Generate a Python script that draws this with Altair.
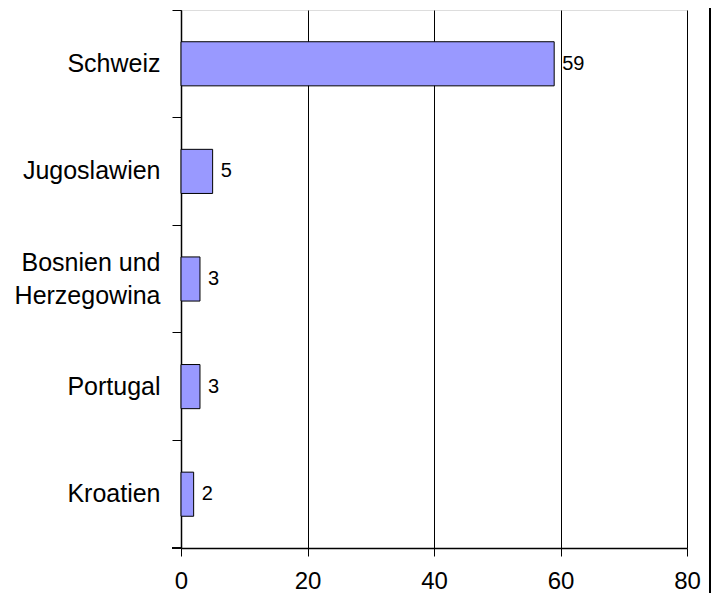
import altair as alt
import pandas as pd

countries = ["Schweiz", "Jugoslawien", "Bosnien und Herzegowina", "Portugal", "Kroatien"]
values = [59, 5, 3, 3, 2]
x_ticks = [0, 20, 40, 60, 80]

df = pd.DataFrame({"Land": countries, "Wert": values})

FONT = "Liberation Sans"

y_enc = alt.Y(
    "Land:N",
    sort=countries,
    scale=alt.Scale(paddingInner=0, paddingOuter=0),
    axis=alt.Axis(
        title=None,
        bandPosition=0,
        domainColor="black",
        domainWidth=1.5,
        tickColor="black",
        tickSize=9,
        tickWidth=1,
        labelFont=FONT,
        labelFontSize=25,
        labelColor="black",
        labelPadding=12,
        labelLineHeight=33,
        labelOffset=alt.condition(
            "datum.value == 'Bosnien und Herzegowina'", alt.value(-16), alt.value(0)
        ),
        labelExpr="datum.value == 'Bosnien und Herzegowina' ? ['Bosnien und', 'Herzegowina'] : datum.value",
    ),
)

x_enc = alt.X(
    "Wert:Q",
    scale=alt.Scale(domain=[0, 80], nice=False),
    axis=alt.Axis(
        title=None,
        values=x_ticks,
        grid=True,
        gridColor="black",
        gridWidth=1,
        gridOpacity=1,
        domainColor="black",
        domainWidth=1.5,
        tickColor="black",
        tickSize=8,
        tickWidth=1,
        labelFont=FONT,
        labelFontSize=24,
        labelColor="black",
        labelPadding=13,
        labelFlush=False,
        labelOverlap=False,
    ),
)

bars = alt.Chart(df).mark_bar(
    color="#9999FF", stroke="black", strokeWidth=1, height={"band": 0.41}
).encode(x=x_enc, y=y_enc)

labels = alt.Chart(df).mark_text(
    align="left", baseline="middle", dx=8, font=FONT, fontSize=20, color="black"
).encode(x="Wert:Q", y=alt.Y("Land:N", sort=countries), text="Wert:Q")

bottom_tick = alt.Chart(df).mark_rule(color="black", strokeWidth=1).encode(
    x=alt.value(-9), x2=alt.value(0), y=alt.value(538)
)

border = alt.Chart(df).mark_rule(color="black", strokeWidth=1.5, clip=False).encode(
    x=alt.value(529), y=alt.value(-12), y2=alt.value(595)
)

chart = (
    alt.layer(bars, labels, bottom_tick, border)
    .properties(
        width=506,
        height=538,
        autosize=alt.AutoSizeParams(type="none"),
        padding={"left": 173, "top": 2, "right": 24, "bottom": 45},
    )
    .configure_view(stroke=None)
    .configure(background="white")
)

chart.save("out.html", embed_options={"renderer": "svg", "actions": False})
